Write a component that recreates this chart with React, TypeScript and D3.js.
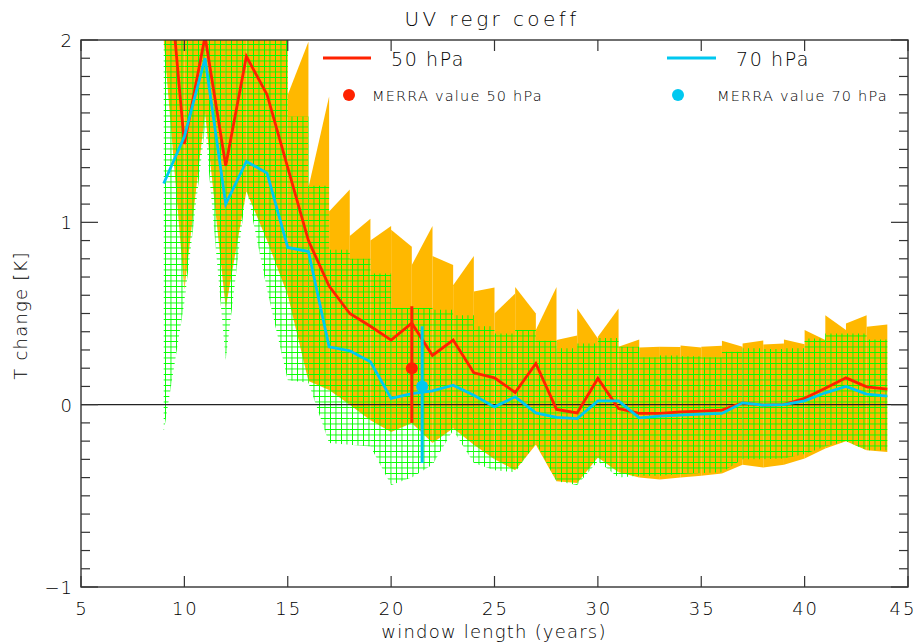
import React from "react";
import * as d3 from "d3";

// window lengths (years)
const years = [9, 10, 11, 12, 13, 14, 15, 16, 17, 18, 19, 20, 21, 22, 23, 24, 25, 26, 27, 28, 29, 30, 31, 32, 33, 34, 35, 36, 37, 38, 39, 40, 41, 42, 43, 44];

const red50 = [2.7, 1.43, 2.02, 1.31, 1.91, 1.7, 1.3, 0.9, 0.65, 0.5, 0.43, 0.354, 0.447, 0.27, 0.354, 0.175, 0.147, 0.067, 0.226, -0.026, -0.045, 0.144, -0.021, -0.048, -0.048, -0.04, -0.035, -0.03, 0.01, -0.003, 0.0, 0.035, 0.09, 0.147, 0.098, 0.085];
const cyan70 = [1.213, 1.47, 1.9, 1.1, 1.334, 1.27, 0.862, 0.84, 0.317, 0.295, 0.235, 0.034, 0.061, 0.076, 0.107, 0.052, -0.012, 0.043, -0.045, -0.07, -0.076, 0.021, 0.021, -0.072, -0.063, -0.057, -0.052, -0.048, 0.01, -0.003, 0.0, 0.021, 0.065, 0.1, 0.058, 0.047];

// orange band (50 hPa spread): top per interval (left / right end), bottom per year
const orangeTopL = [2.3, 2.3, 2.3, 2.3, 2.3, 2.3, 1.7, 1.19, 1.06, 0.925, 0.9, 0.96, 0.766, 0.815, 0.655, 0.62, 0.5, 0.646, 0.41, 0.354, 0.528, 0.372, 0.317, 0.314, 0.317, 0.325, 0.317, 0.35, 0.336, 0.33, 0.357, 0.41, 0.49, 0.445, 0.427];
const orangeTopR = [2.3, 2.3, 2.3, 2.3, 2.3, 2.3, 1.99, 1.69, 1.18, 1.02, 0.98, 0.866, 0.98, 0.766, 0.815, 0.643, 0.61, 0.5, 0.646, 0.38, 0.363, 0.528, 0.357, 0.317, 0.316, 0.314, 0.323, 0.317, 0.352, 0.336, 0.332, 0.354, 0.41, 0.49, 0.44];
const orangeBot = [2.0, 0.63, 1.6, 0.53, 1.17, 0.9, 0.6, 0.13, 0.08, 0.0, -0.085, -0.15, -0.1, -0.21, -0.13, -0.22, -0.3, -0.36, -0.22, -0.42, -0.43, -0.29, -0.37, -0.4, -0.41, -0.4, -0.39, -0.377, -0.33, -0.345, -0.33, -0.295, -0.24, -0.2, -0.25, -0.26];

// green hatched band (70 hPa spread): top per interval, bottom per year
const greenTop = [2.3, 2.3, 2.3, 2.3, 2.3, 2.3, 1.58, 1.2, 0.85, 0.8, 0.72, 0.53, 0.53, 0.52, 0.49, 0.43, 0.39, 0.41, 0.35, 0.31, 0.335, 0.365, 0.317, 0.26, 0.27, 0.265, 0.26, 0.29, 0.31, 0.305, 0.31, 0.363, 0.39, 0.39, 0.357];
const greenBot = [-0.15, 0.56, 1.52, 0.245, 1.19, 0.63, 0.134, 0.12, -0.21, -0.22, -0.23, -0.44, -0.4, -0.33, -0.14, -0.32, -0.36, -0.37, -0.21, -0.42, -0.44, -0.31, -0.4, -0.39, -0.39, -0.38, -0.375, -0.37, -0.3, -0.3, -0.295, -0.27, -0.23, -0.2, -0.25, -0.25];

// MERRA reference values with error bars
const merraX = [21, 21.5];
const merraVal = [0.2, 0.1];
const merraLo = [-0.1, -0.32];
const merraHi = [0.54, 0.43];
const merraColor = ["#ff2200", "#00c8f0"];

const xTicks = [5, 10, 15, 20, 25, 30, 35, 40, 45];
const yLabels = [-1, 0, 1, 2];

const W = 918;
const H = 643;
const left = 81, right = 908, top = 40, bottom = 587;
const RED = "#ff2200";
const CYAN = "#00c8f0";
const ORANGE = "#ffb800";
const GREEN = "#00ff00";
const FONT = "DejaVu Sans, Liberation Sans, sans-serif";

export default function App() {
  const x = d3.scaleLinear().domain([5, 45]).range([left, right]);
  const y = d3.scaleLinear().domain([-1, 2]).range([bottom, top]);

  const poly = d3.line<[number, number]>().x((d) => x(d[0])).y((d) => y(d[1]));
  const line = d3.line<number>().x((_, i) => x(years[i])).y((d) => y(d));

  const orangeCells = orangeTopL.map((tl, i) => {
    const a = years[i], b = years[i + 1];
    const d = poly([[a, tl], [b, orangeTopR[i]], [b, orangeBot[i + 1]], [a, orangeBot[i]]]) + "Z";
    return <path key={"o" + i} d={d} fill={ORANGE} />;
  });

  const greenCells = greenTop.map((t, i) => {
    const a = years[i], b = years[i + 1];
    const d = poly([[a, t], [b, t], [b, greenBot[i + 1]], [a, greenBot[i]]]) + "Z";
    return <path key={"g" + i} d={d} fill="url(#hatch)" />;
  });

  const yMinor = d3.range(-10, 21).map((k) => k / 10);

  const textStyle = { fontFamily: FONT, fontWeight: 200, fill: "#000", letterSpacing: "1px" } as React.CSSProperties;

  return (
    <svg width={W} height={H} style={{ position: "absolute", left: 0, top: 0, background: "#fff" }}>
      <defs>
        <clipPath id="plot">
          <rect x={left} y={top} width={right - left} height={bottom - top} />
        </clipPath>
        <pattern id="hatch" patternUnits="userSpaceOnUse" width={5.5} height={5.5}>
          <rect x={0} y={0} width={1.2} height={5.5} fill={GREEN} shapeRendering="crispEdges" />
          <rect x={0} y={0} width={5.5} height={1.2} fill={GREEN} shapeRendering="crispEdges" />
        </pattern>
      </defs>

      <g clipPath="url(#plot)">
        {orangeCells}
        {greenCells}
        <line x1={left} x2={right} y1={y(0)} y2={y(0)} stroke="#222" strokeWidth={1.4} />
        <path d={line(red50) || ""} fill="none" stroke={RED} strokeWidth={2.8} />
        <path d={line(cyan70) || ""} fill="none" stroke={CYAN} strokeWidth={2.8} />
        {merraX.map((mx, i) => (
          <g key={"m" + i}>
            <line x1={x(mx)} x2={x(mx)} y1={y(merraLo[i])} y2={y(merraHi[i])} stroke={merraColor[i]} strokeWidth={3} />
            <circle cx={x(mx)} cy={y(merraVal[i])} r={6} fill={merraColor[i]} />
          </g>
        ))}
      </g>

      {/* frame */}
      <rect x={left} y={top} width={right - left} height={bottom - top} fill="none" stroke="#333" strokeWidth={1.4} />

      {/* y ticks, both sides */}
      {yMinor.map((v) => {
        const major = Math.abs(v - Math.round(v)) < 1e-6;
        const len = major ? 17 : 9;
        return (
          <g key={"yt" + v} stroke="#333" strokeWidth={1.2}>
            <line x1={left} x2={left + len} y1={y(v)} y2={y(v)} />
            <line x1={right} x2={right - len} y1={y(v)} y2={y(v)} />
          </g>
        );
      })}
      {/* x ticks, top and bottom */}
      {xTicks.map((v) => (
        <g key={"xt" + v} stroke="#333" strokeWidth={1.2}>
          <line x1={x(v)} x2={x(v)} y1={bottom} y2={bottom - 11} />
          <line x1={x(v)} x2={x(v)} y1={top} y2={top + 11} />
        </g>
      ))}

      {xTicks.map((v) => (
        <text key={"xl" + v} x={Math.min(x(v) + 1, 903)} y={615} textAnchor="middle" fontSize={18} style={{ ...textStyle, letterSpacing: "2px" }}>
          {v}
        </text>
      ))}
      {yLabels.map((v) => (
        <text key={"yl" + v} x={left - 8} y={y(v) + 7} textAnchor="end" fontSize={18} style={textStyle}>
          {v < 0 ? "\u2212" + Math.abs(v) : v}
        </text>
      ))}

      <text x={492} y={26} textAnchor="middle" fontSize={20} style={{ ...textStyle, letterSpacing: "3.4px" }}>
        UV regr coeff
      </text>
      <text x={494} y={638} textAnchor="middle" fontSize={18} style={{ ...textStyle, letterSpacing: "1.2px" }}>
        window length (years)
      </text>
      <text transform={`translate(27,${(top + bottom) / 2 + 2}) rotate(-90)`} textAnchor="middle" fontSize={18} style={{ ...textStyle, letterSpacing: "1.2px" }}>
        T change [K]
      </text>

      {/* legend */}
      <line x1={323} x2={371} y1={58} y2={58} stroke={RED} strokeWidth={2.8} />
      <text x={391} y={66} fontSize={19} style={{ ...textStyle, letterSpacing: "1.6px" }}>50 hPa</text>
      <line x1={667} x2={716} y1={58} y2={58} stroke={CYAN} strokeWidth={2.8} />
      <text x={736} y={66} fontSize={19} style={{ ...textStyle, letterSpacing: "1.6px" }}>70 hPa</text>
      <circle cx={349} cy={95} r={6} fill={RED} />
      <text x={372} y={101} fontSize={14.5} style={{ ...textStyle, letterSpacing: "1.2px" }}>MERRA value 50 hPa</text>
      <circle cx={678} cy={95} r={6} fill={CYAN} />
      <text x={717} y={101} fontSize={14.5} style={{ ...textStyle, letterSpacing: "1.2px" }}>MERRA value 70 hPa</text>
    </svg>
  );
}
